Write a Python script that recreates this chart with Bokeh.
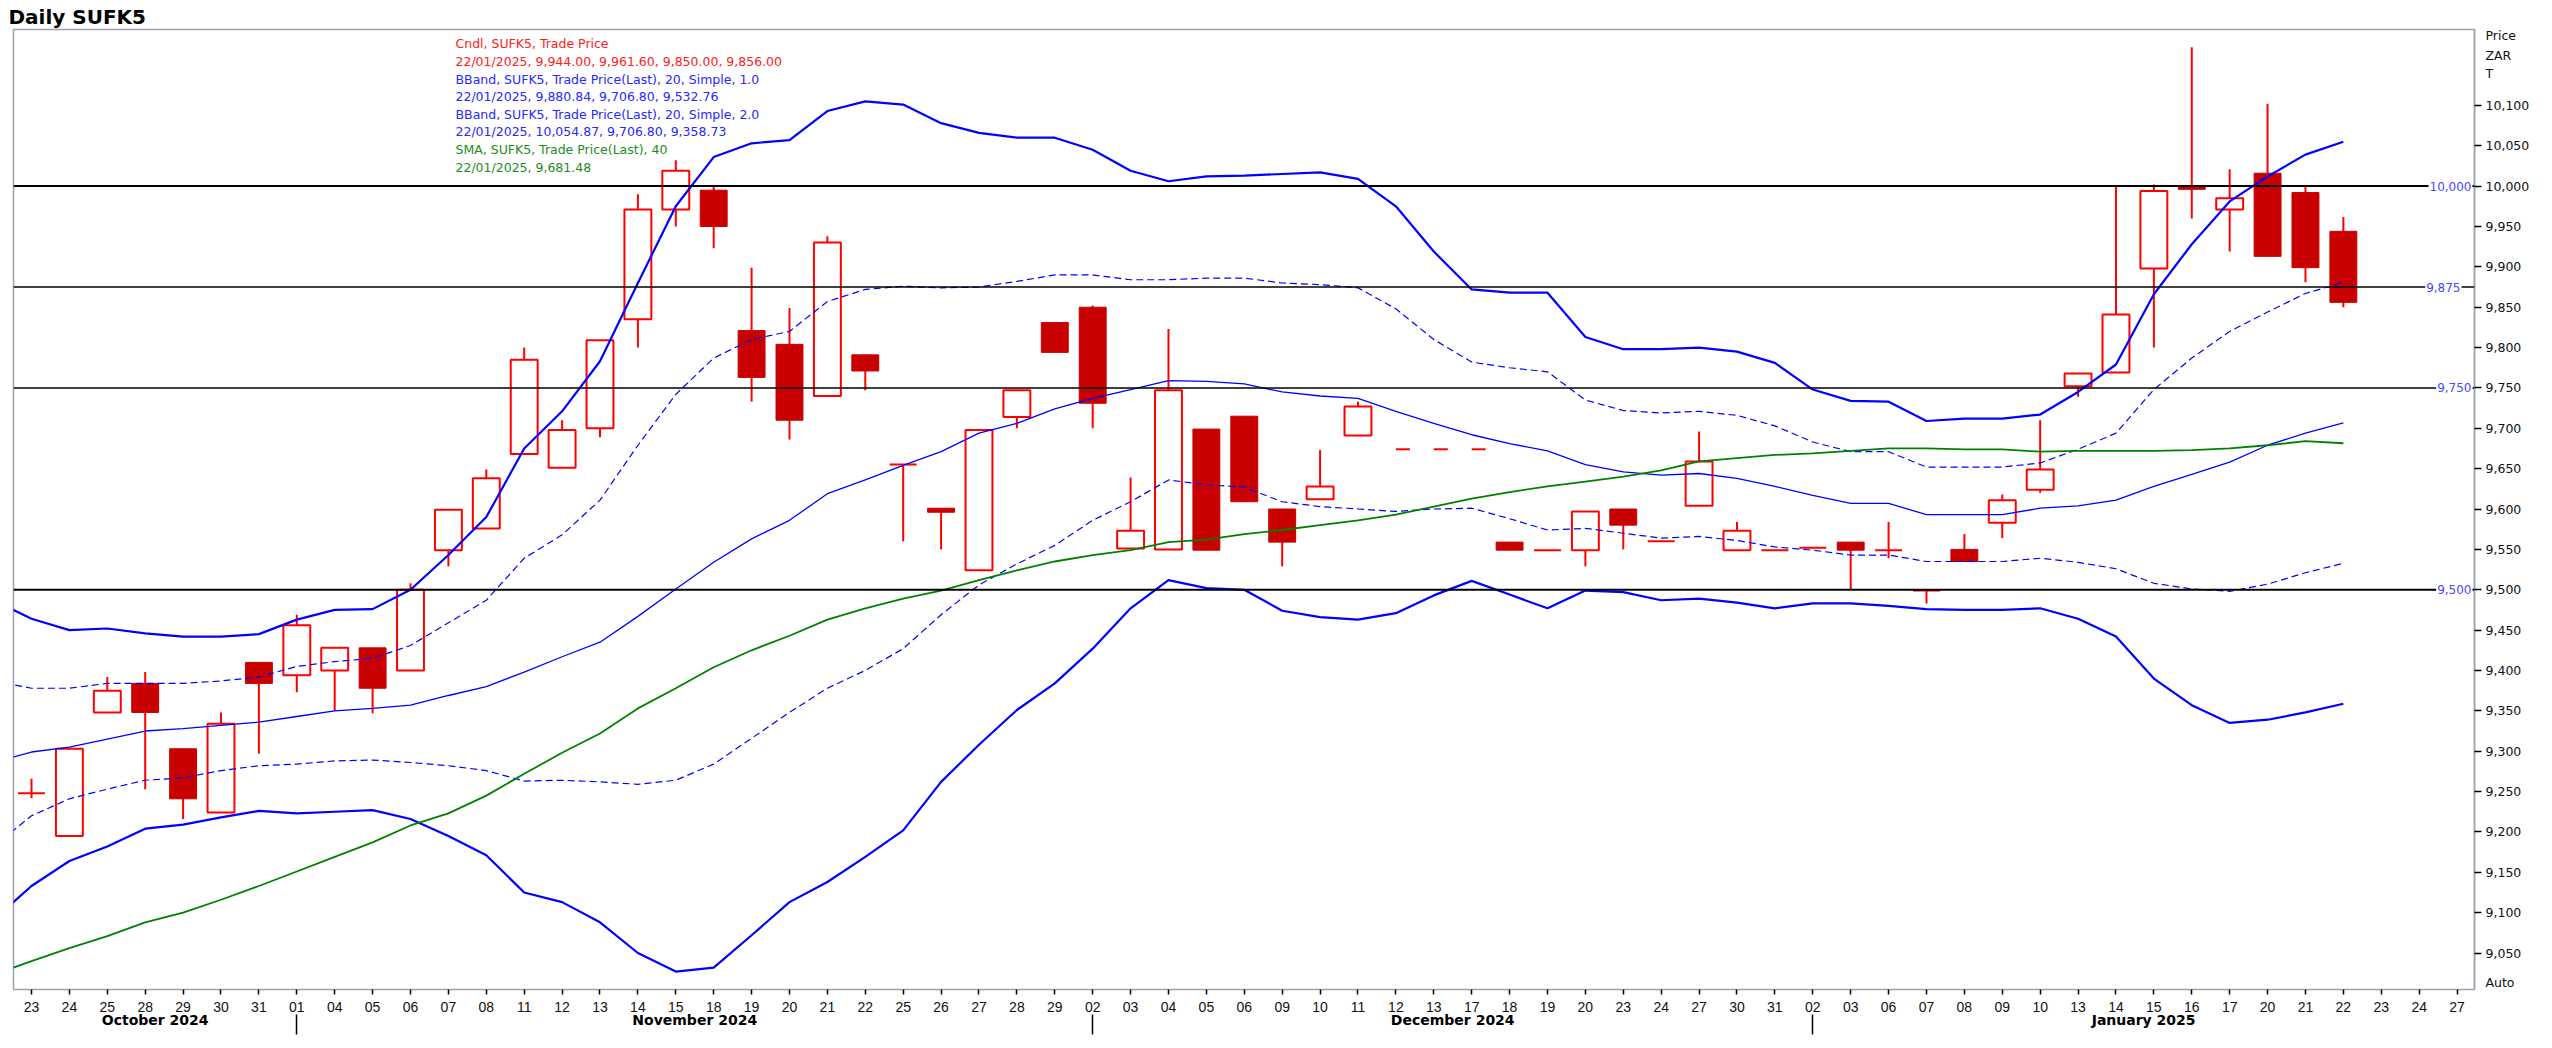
import numpy as np
from bokeh.plotting import figure
from bokeh.models import (Range1d, LinearAxis, FixedTicker, NumeralTickFormatter,
                          Span, Label)
from bokeh.embed import file_html
from bokeh.resources import INLINE
from bokeh.core.properties import value

nan = float("nan")

# ---------------- data ----------------
day_labels = ["23", "24", "25", "28", "29", "30", "31",
              "01", "04", "05", "06", "07", "08", "11", "12", "13", "14", "15", "18", "19", "20",
              "21", "22", "25", "26", "27", "28", "29",
              "02", "03", "04", "05", "06", "09", "10", "11", "12", "13", "17", "18", "19", "20",
              "23", "24", "27", "30", "31",
              "02", "03", "06", "07", "08", "09", "10", "13", "14", "15", "16", "17", "20", "21",
              "22", "23", "24", "27"]
month_names = ["October 2024", "November 2024", "December 2024", "January 2025"]
month_first_idx = [7, 28, 47]   # first trading day of Nov, Dec, Jan

opens = [9248, 9195, 9348, 9384, 9303, 9224, 9410, 9394, 9400, 9428,
         9400, 9549, 9576, 9668, 9651, 9700, 9835, 9971, 9995, 9821,
         9804, 9740, 9791, 9655, 9601, 9524, 9714, 9831, 9850, 9551,
         9550, 9699, 9715, 9600, 9612, 9691, nan, nan, nan, 9559,
         9549, 9549, 9600, 9560, 9604, 9549, 9549, 9552, 9559, 9549,
         9499, 9550, 9583, 9624, 9752, 9769, 9898, 10000, 9971, 10016,
         9992, 9944.00]
highs = [9266, 9303, 9392, 9398, 9303, 9348, 9410, 9469, 9428, 9428,
         9508, 9599, 9649, 9800, 9710, 9809, 9990, 10032, 9999, 9899,
         9849, 9938, 9791, 9655, 9601, 9698, 9747, 9831, 9852, 9639,
         9823, 9699, 9715, 9600, 9673, 9733, nan, nan, nan, 9559,
         9549, 9597, 9600, 9560, 9696, 9584, 9549, 9552, 9559, 9584,
         9499, 9569, 9618, 9710, 9768, 9999, 10002, 10172, 10021, 10102,
         9999, 9961.60]
lows = [9242, 9195, 9348, 9253, 9216, 9224, 9297, 9373, 9350, 9347,
        9400, 9529, 9576, 9668, 9651, 9689, 9800, 9950, 9923, 9733,
        9686, 9740, 9747, 9560, 9550, 9524, 9700, 9794, 9700, 9551,
        9550, 9549, 9609, 9529, 9612, 9691, nan, nan, nan, 9549,
        9549, 9529, 9550, 9560, 9604, 9549, 9549, 9552, 9500, 9539,
        9483, 9535, 9564, 9620, 9739, 9769, 9800, 9960, 9919, 9913,
        9881, 9850.00]
closes = [9248, 9303, 9375, 9348, 9241, 9334, 9384, 9456, 9428, 9378,
          9500, 9599, 9638, 9785, 9698, 9809, 9971, 10019, 9950, 9763,
          9710, 9930, 9771, 9655, 9596, 9698, 9747, 9794, 9731, 9573,
          9747, 9549, 9609, 9559, 9628, 9727, nan, nan, nan, 9549,
          9549, 9597, 9580, 9560, 9659, 9573, 9549, 9552, 9549, 9549,
          9499, 9535, 9611, 9649, 9768, 9841, 9994, 9996, 9985, 9913,
          9899, 9856.00]
# days without a traded range, shown as a short dash
flat_idx = [36, 37, 38]
flat_val = [9674, 9674, 9674]

# indicator series start one session earlier (22 Oct 2024, index -1)
ind_x = list(range(-1, 62))
bb2_upper = [9487, 9464, 9450, 9452, 9446, 9442, 9442, 9445, 9463, 9475,
             9476, 9500, 9543, 9590, 9675, 9721, 9783, 9880, 9975, 10036,
             10053, 10057, 10093, 10105, 10101, 10078, 10066, 10060, 10060, 10045,
             10019, 10006, 10012, 10013, 10015, 10017, 10009, 9975, 9919, 9872,
             9868, 9868, 9813, 9798, 9798, 9800, 9795, 9781, 9748, 9734,
             9733, 9709, 9712, 9712, 9717, 9745, 9779, 9866, 9928, 9981,
             10012, 10039, 10054.87]
bb1_upper = [9387, 9378, 9378, 9384, 9384, 9384, 9387, 9392, 9405, 9411,
             9415, 9431, 9459, 9487, 9539, 9568, 9611, 9679, 9742, 9787,
             9810, 9820, 9857, 9872, 9876, 9874, 9875, 9882, 9890, 9890,
             9884, 9884, 9886, 9886, 9880, 9878, 9874, 9848, 9810, 9782,
             9775, 9770, 9735, 9722, 9719, 9721, 9716, 9703, 9683, 9671,
             9671, 9652, 9652, 9652, 9657, 9674, 9694, 9748, 9787, 9820,
             9844, 9867, 9880.84]
bb_mid = [9286, 9299, 9305, 9315, 9325, 9328, 9332, 9336, 9343, 9350,
          9353, 9357, 9369, 9380, 9398, 9417, 9435, 9467, 9501, 9534,
          9563, 9586, 9619, 9636, 9654, 9671, 9694, 9706, 9724, 9737,
          9748, 9759, 9758, 9755, 9745, 9740, 9737, 9721, 9706, 9692,
          9681, 9672, 9655, 9646, 9642, 9644, 9638, 9628, 9617, 9607,
          9607, 9593, 9593, 9593, 9601, 9604, 9611, 9628, 9643, 9658,
          9679, 9694, 9706.80]
bb1_lower = [9182, 9220, 9241, 9253, 9264, 9267, 9276, 9282, 9284, 9288,
             9289, 9286, 9282, 9276, 9263, 9264, 9262, 9259, 9264, 9284,
             9316, 9348, 9378, 9400, 9427, 9469, 9506, 9532, 9555, 9586,
             9609, 9636, 9630, 9627, 9609, 9603, 9600, 9597, 9600, 9601,
             9588, 9574, 9576, 9570, 9564, 9566, 9561, 9553, 9549, 9543,
             9543, 9535, 9535, 9535, 9539, 9534, 9526, 9508, 9501, 9498,
             9507, 9521, 9532.76]
bb2_lower = [9091, 9133, 9164, 9182, 9204, 9209, 9218, 9226, 9223, 9225,
             9227, 9216, 9195, 9171, 9125, 9113, 9088, 9050, 9027, 9032,
             9072, 9113, 9138, 9169, 9202, 9262, 9308, 9351, 9384, 9427,
             9477, 9512, 9502, 9500, 9474, 9466, 9463, 9471, 9493, 9511,
             9494, 9477, 9499, 9497, 9487, 9489, 9484, 9477, 9483, 9483,
             9480, 9476, 9475, 9475, 9477, 9464, 9442, 9390, 9357, 9335,
             9339, 9348, 9358.73]
sma40 = [9023, 9040, 9056, 9071, 9088, 9100, 9116, 9133, 9151, 9169,
         9187, 9208, 9223, 9245, 9272, 9298, 9322, 9353, 9378, 9404,
         9425, 9443, 9463, 9477, 9489, 9499, 9512, 9524, 9535, 9543,
         9549, 9559, 9562, 9569, 9574, 9580, 9586, 9593, 9603, 9613,
         9621, 9628, 9634, 9640, 9648, 9659, 9663, 9667, 9669, 9672,
         9675, 9675, 9674, 9674, 9671, 9672, 9672, 9672, 9673, 9675,
         9679, 9684, 9681.48]

levels = [10000, 9875, 9750, 9500]
level_texts = ["10,000", "9,875", "9,750", "9,500"]
price_ticks = list(range(9050, 10101, 50))
axis_caption = ["Price", "ZAR", "T"]

legend_lines = ["Cndl, SUFK5, Trade Price",
                "22/01/2025, 9,944.00, 9,961.60, 9,850.00, 9,856.00",
                "BBand, SUFK5, Trade Price(Last),  20, Simple, 1.0",
                "22/01/2025, 9,880.84, 9,706.80, 9,532.76",
                "BBand, SUFK5, Trade Price(Last),  20, Simple, 2.0",
                "22/01/2025, 10,054.87, 9,706.80, 9,358.73",
                "SMA, SUFK5, Trade Price(Last),  40",
                "22/01/2025, 9,681.48"]

# ---------------- layout geometry ----------------
W, H = 2540, 1040
FL, FR, FT, FB = 13, 2474, 29, 989          # frame edges in pixels
X0, X1 = -0.475, 64.46
Y0, Y1 = 9004.8, 10194.0

RED = "#FF0000"
DARKRED = "#C80000"
BLUE = "#0000FF"
GREEN = "#008000"

px_x = (X1 - X0) / (FR - FL)   # data units per pixel
px_y = (Y1 - Y0) / (FB - FT)


def xd(px):
    return X0 + (px - FL) * px_x


def yd(py):
    return Y1 - (py - FT) * px_y


p = figure(width=W, height=H, x_range=Range1d(X0, X1), y_range=Range1d(Y0, Y1),
           x_axis_location=None, y_axis_location=None,
           toolbar_location=None, tools="", output_backend="svg",
           min_border_left=FL, min_border_right=W - FR,
           min_border_top=FT, min_border_bottom=H - FB,
           background_fill_color="white", border_fill_color="white")
p.grid.visible = False
p.outline_line_color = "#A0A0B0"
p.outline_line_width = 1.5

p.title.text = "Daily SUFK5"
p.title.text_font = "DejaVu Sans"
p.title.text_font_size = "20px"
p.title.text_font_style = "bold"
p.title.text_color = "black"
p.title.align = "left"
p.title.offset = -5
p.title.standoff = 2

# ---------------- candles ----------------
o = np.array(opens, dtype=float)
h = np.array(highs, dtype=float)
l = np.array(lows, dtype=float)
c = np.array(closes, dtype=float)
idx = np.arange(len(o))
ok = ~np.isnan(o)
up = ok & (c >= o)
dn = ok & (c < o)

p.segment(x0=idx[ok], y0=l[ok], x1=idx[ok], y1=h[ok], line_color=RED, line_width=2)
p.vbar(x=idx[dn], width=0.71, top=o[dn], bottom=c[dn],
       fill_color=DARKRED, line_color=DARKRED, line_width=1)
p.vbar(x=idx[up], width=0.71, top=c[up], bottom=o[up],
       fill_color="white", line_color=RED, line_width=2)
fx = np.array(flat_idx, dtype=float)
p.segment(x0=fx, y0=flat_val, x1=fx + 0.37, y1=flat_val, line_color=RED, line_width=2)

# ---------------- indicators ----------------
p.line(ind_x, bb2_upper, line_color=BLUE, line_width=2.2)
p.line(ind_x, bb2_lower, line_color=BLUE, line_width=2.2)
p.line(ind_x, bb1_upper, line_color=BLUE, line_width=1.2, line_dash="7 4")
p.line(ind_x, bb1_lower, line_color=BLUE, line_width=1.2, line_dash="7 4")
p.line(ind_x, bb_mid, line_color=BLUE, line_width=1.3)
p.line(ind_x, sma40, line_color=GREEN, line_width=1.8)

# ---------------- horizontal levels ----------------
for lv, w in zip(levels, [2, 1.4, 1.6, 2]):
    p.add_layout(Span(location=lv, dimension="width", line_color="black", line_width=w))
for lv, t in zip(levels, level_texts):
    right = 2461 if lv == 9875 else 2472
    p.add_layout(Label(x=xd(right), y=lv, text=t, text_align="right", text_baseline="middle",
                       text_color="#4848FF", text_font="DejaVu Sans", text_font_size="12px",
                       background_fill_color="white", padding=1))

# ---------------- legend text ----------------
leg_colors = ["#FF2020", "#FF2020", "#2828FF", "#2828FF", "#2828FF", "#2828FF", "#1E8C1E", "#1E8C1E"]
leg_y = [yd(43.3 + 17.6 * k) for k in range(len(legend_lines))]
p.text(x=[xd(455)] * len(legend_lines), y=leg_y, text=legend_lines,
       text_color=leg_colors, text_font=value("DejaVu Sans"), text_font_size="12.5px",
       text_baseline="middle", text_align="left")

# ---------------- right price axis ----------------
caption_y = [round(yd(py), 2) for py in (35.3, 54.7, 72.7)]
auto_y = round(yd(982), 2)
overrides = {cy: t for cy, t in zip(caption_y, axis_caption)}
overrides[auto_y] = "Auto"
ya = LinearAxis(ticker=FixedTicker(ticks=price_ticks + caption_y + [auto_y], minor_ticks=price_ticks),
                formatter=NumeralTickFormatter(format="0,0"),
                major_label_overrides=overrides)
ya.axis_line_color = "#A0A0B0"
ya.axis_line_width = 1.5
ya.major_tick_line_color = None
ya.major_tick_out = 7
ya.major_tick_in = 0
ya.minor_tick_line_color = "black"
ya.minor_tick_line_width = 1.3
ya.minor_tick_out = 7
ya.minor_tick_in = 0
ya.major_label_standoff = 4
ya.major_label_text_font = "DejaVu Sans"
ya.major_label_text_font_size = "12.5px"
ya.major_label_text_color = "#111111"
p.add_layout(ya, "right")

# ---------------- bottom day axis ----------------
xa = LinearAxis(ticker=FixedTicker(ticks=list(range(len(day_labels))), minor_ticks=[]),
                major_label_overrides={i: d for i, d in enumerate(day_labels)})
xa.axis_line_color = None
xa.major_tick_line_color = "black"
xa.major_tick_line_width = 1.5
xa.major_tick_out = 5
xa.major_tick_in = 0
xa.minor_tick_line_color = None
xa.major_label_standoff = 7
xa.major_label_text_font = "Liberation Sans"
xa.major_label_text_font_size = "14px"
xa.major_label_text_color = "#111111"
p.add_layout(xa, "below")

# ---------------- month axis ----------------
bounds = [X0] + month_first_idx + [X1]
centers = [round((bounds[k] + bounds[k + 1]) / 2, 3) for k in range(len(month_names))]
ma = LinearAxis(ticker=FixedTicker(ticks=centers, minor_ticks=month_first_idx),
                major_label_overrides={cc: n for cc, n in zip(centers, month_names)})
ma.axis_line_color = None
ma.major_tick_line_color = None
ma.major_tick_out = 0
ma.major_tick_in = 0
ma.minor_tick_line_color = "black"
ma.minor_tick_line_width = 1.5
ma.minor_tick_out = 20
ma.minor_tick_in = 0
ma.major_label_standoff = -23
ma.major_label_text_font = "DejaVu Sans"
ma.major_label_text_font_size = "14px"
ma.major_label_text_font_style = "bold"
ma.major_label_text_color = "black"
p.add_layout(ma, "below")

open("out.html", "w").write(file_html(p, INLINE))
